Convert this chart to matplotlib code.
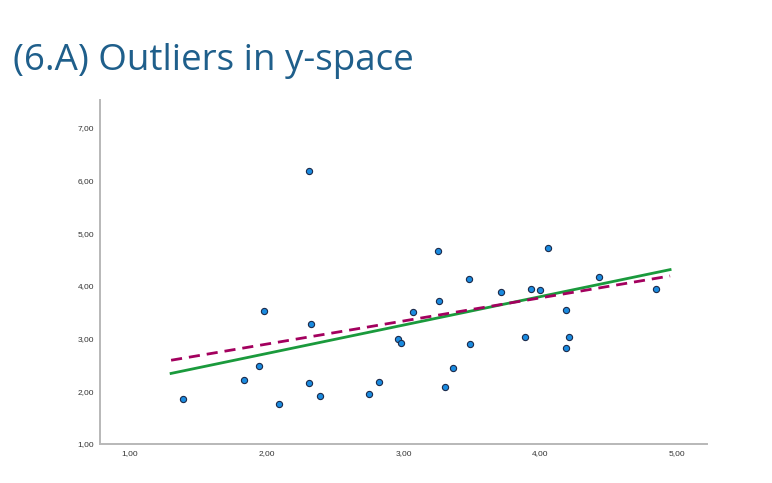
import numpy as np
import matplotlib.pyplot as plt

# scatter points
x_vals = [1.39, 1.83, 1.94, 1.98, 2.09, 2.31, 2.32, 2.39, 2.75, 2.82, 2.96, 2.98,
          2.31,
          3.07, 3.25, 3.26, 3.30, 3.36, 3.48, 3.49, 3.71, 3.89, 3.93, 4.00, 4.06,
          4.19, 4.21, 4.19, 4.43, 4.85]
y_vals = [1.86, 2.22, 2.49, 3.52, 1.76, 2.16, 3.28, 1.91, 1.95, 2.18, 2.99, 2.91,
          6.18,
          3.50, 4.66, 3.71, 2.09, 2.44, 4.13, 2.89, 3.88, 3.04, 3.95, 3.92, 4.72,
          3.55, 3.04, 2.83, 4.17, 3.95]

# fit lines, end points
fit_x = [1.30, 4.95]
fit_solid_y = [2.34, 4.31]
fit_dashed_y = [2.59, 4.19]

x_ticks = [1, 2, 3, 4, 5]
y_ticks = [1, 2, 3, 4, 5, 6, 7]

fig = plt.figure(figsize=(7.72, 4.83), dpi=100)
fig.text(0.017, 0.855, "(6.A) Outliers in y-space", fontsize=26.5,
         color="#1f5f8b", family="Open Sans", va="baseline")

ax = fig.add_axes([100/772, 1-444/483, 607/772, 344/483])
ax.plot(fit_x, fit_solid_y, color="#1a9a3c", lw=2.0, zorder=2)
ax.plot(fit_x, fit_dashed_y, color="#a3005e", lw=2.0, ls=(0, (4, 2.5)), zorder=2)
ax.scatter(x_vals, y_vals, s=20, color="#1a8be0", edgecolor="#1b2a4a",
           linewidth=0.8, zorder=3)

ax.set_xlim(0.78, 5.22)
ax.set_ylim(1.0, 7.53)
ax.set_xticks(x_ticks)
ax.set_yticks(y_ticks)
ax.set_xticklabels([f"{v:.2f}".replace(".", ",") for v in x_ticks],
                   family="Liberation Sans")
ax.set_yticklabels([f"{v:.2f}".replace(".", ",") for v in y_ticks],
                   family="Liberation Sans")
ax.tick_params(length=0, labelsize=6, colors="#333333", pad=4)
for s in ["top", "right"]:
    ax.spines[s].set_visible(False)
for s in ["left", "bottom"]:
    ax.spines[s].set_color("#b8b8b8")
    ax.spines[s].set_linewidth(1.4)

fig.savefig("out.png", dpi=100)
